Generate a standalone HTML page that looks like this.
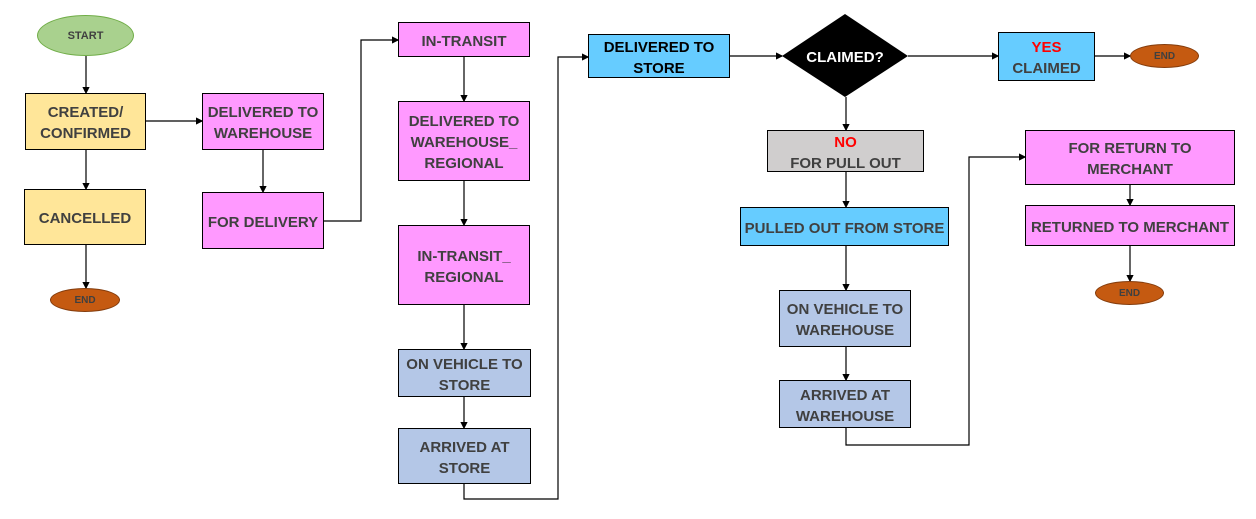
<!DOCTYPE html>
<html><head><style>
body{margin:0;width:1256px;height:519px;background:#fff;position:relative;overflow:hidden;font-family:"Liberation Sans",sans-serif}
.b{position:absolute;box-sizing:border-box;border:1.5px solid #000;display:flex;align-items:center;justify-content:center;text-align:center;font-weight:bold;font-size:15px;line-height:21px;color:#404040;padding-top:3px}
.e{position:absolute;border-radius:50%;display:flex;align-items:center;justify-content:center;font-weight:bold;color:#404040;box-sizing:border-box}
.y{background:#ffe699}.p{background:#ff99ff}.g{background:#b4c7e7}.c{background:#66ccff}
.r{color:#ff0000}
svg{position:absolute;left:0;top:0}
</style></head><body>
<svg width="1256" height="519">
<defs><marker id="a" markerWidth="6" markerHeight="6" refX="5" refY="3" orient="auto"><path d="M0,0L6,3L0,6z" fill="#000"/></marker></defs>
<g stroke="#000" stroke-width="1.2" fill="none" marker-end="url(#a)">
<path d="M86,56V93"/><path d="M86,150V189"/><path d="M86,245V288"/>
<path d="M146,121H202"/><path d="M263,150V192"/>
<path d="M324,221H361V40H398"/>
<path d="M464,57V101"/><path d="M464,181V225"/><path d="M464,305V349"/><path d="M464,397V428"/>
<path d="M464,484V499H558V57H588"/>
<path d="M730,56H782"/><path d="M908,56H998"/><path d="M1095,56H1130"/>
<path d="M846,97V130"/><path d="M846,172V207"/><path d="M846,246V290"/><path d="M846,347V380"/>
<path d="M846,428V445H969V157H1025"/>
<path d="M1130,185V205"/><path d="M1130,246V281"/>
</g>
<polygon points="845,14 908,56 845,97 782,56" fill="#000"/>
<text x="845" y="62" fill="#fff" font-family="Liberation Sans" font-weight="bold" font-size="15" text-anchor="middle">CLAIMED?</text>
</svg>
<div class="e" style="left:37px;top:15px;width:97px;height:41px;background:#a9d18e;border:1px solid #70ad47;font-size:11px">START</div>
<div class="e" style="left:50px;top:288px;width:70px;height:24px;background:#c55a11;border:1px solid #843c0c;font-size:10px">END</div>
<div class="e" style="left:1130px;top:44px;width:69px;height:24px;background:#c55a11;border:1px solid #843c0c;font-size:10px">END</div>
<div class="e" style="left:1095px;top:281px;width:69px;height:24px;background:#c55a11;border:1px solid #843c0c;font-size:10px">END</div>
<div class="b y" style="left:25px;top:93px;width:121px;height:57px">CREATED/<br>CONFIRMED</div>
<div class="b y" style="left:24px;top:189px;width:122px;height:56px">CANCELLED</div>
<div class="b p" style="left:202px;top:93px;width:122px;height:57px">DELIVERED TO<br>WAREHOUSE</div>
<div class="b p" style="left:202px;top:192px;width:122px;height:57px">FOR DELIVERY</div>
<div class="b p" style="left:398px;top:22px;width:132px;height:35px">IN-TRANSIT</div>
<div class="b p" style="left:398px;top:101px;width:132px;height:80px">DELIVERED TO<br>WAREHOUSE_<br>REGIONAL</div>
<div class="b p" style="left:398px;top:225px;width:132px;height:80px">IN-TRANSIT_<br>REGIONAL</div>
<div class="b g" style="left:398px;top:349px;width:133px;height:48px">ON VEHICLE TO<br>STORE</div>
<div class="b g" style="left:398px;top:428px;width:133px;height:56px">ARRIVED AT<br>STORE</div>
<div class="b c" style="left:588px;top:34px;width:142px;height:44px;color:#000">DELIVERED TO<br>STORE</div>
<div class="b c" style="left:998px;top:32px;width:97px;height:49px"><span><span class="r">YES</span><br>CLAIMED</span></div>
<div class="b" style="left:767px;top:130px;width:157px;height:42px;background:#d0cece"><span><span class="r">NO</span><br>FOR PULL OUT</span></div>
<div class="b c" style="left:740px;top:207px;width:209px;height:39px">PULLED OUT FROM STORE</div>
<div class="b g" style="left:779px;top:290px;width:132px;height:57px">ON VEHICLE TO<br>WAREHOUSE</div>
<div class="b g" style="left:779px;top:380px;width:132px;height:48px">ARRIVED AT<br>WAREHOUSE</div>
<div class="b p" style="left:1025px;top:130px;width:210px;height:55px">FOR RETURN TO<br>MERCHANT</div>
<div class="b p" style="left:1025px;top:205px;width:210px;height:41px">RETURNED TO MERCHANT</div>
</body></html>
